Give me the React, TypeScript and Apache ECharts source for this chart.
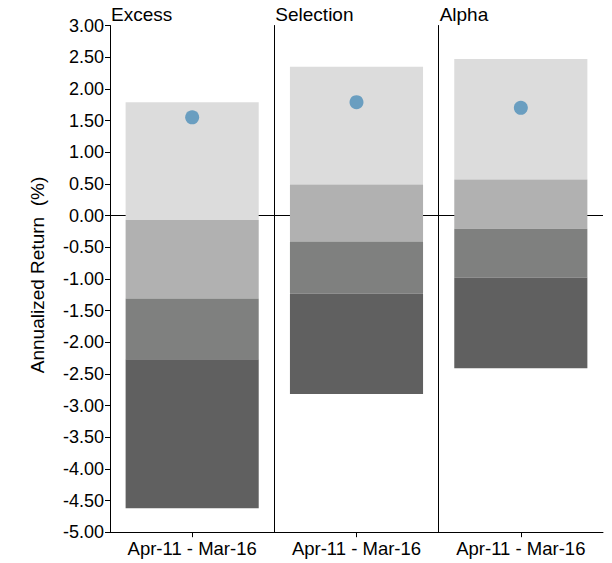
import React, { useEffect, useRef } from "react";
import * as echarts from "echarts";

const panels = ["Excess", "Selection", "Alpha"];
const periodLabel = "Apr-11 - Mar-16";
// Quartile boundaries, top to bottom, for each panel
const band5 = [1.79, 2.35, 2.47]; // top of light band
const band4 = [-0.07, 0.49, 0.57]; // light / medium boundary
const band3 = [-1.31, -0.41, -0.21]; // medium / dark-medium boundary
const band2 = [-2.27, -1.23, -0.98]; // dark-medium / dark boundary
const band1 = [-4.62, -2.82, -2.41]; // bottom of dark band
const portfolio = [1.55, 1.79, 1.70];
const segmentColors = ["#dcdcdc", "#b1b1b1", "#7f807f", "#606060"];

const Y_MIN = -5;
const Y_MAX = 3;
const Y_INT = 0.5;

export default function App() {
  const ref = useRef<HTMLDivElement>(null);
  useEffect(() => {
    document.body.style.margin = "0";
    if (!ref.current) return;
    const chart = echarts.init(ref.current, null, { renderer: "svg" });
    const font = "Liberation Sans, Arial, sans-serif";
    const left0 = 110;
    const panelW = 164.33;
    const top = 25.5;
    const height = 506.7;

    const grids: any[] = [];
    const xAxes: any[] = [];
    const yAxes: any[] = [];
    const series: any[] = [];
    const graphics: any[] = [];

    panels.forEach((name, i) => {
      grids.push({ left: left0 + i * panelW, top, width: panelW, height });
      xAxes.push({
        type: "category",
        gridIndex: i,
        data: [periodLabel],
        axisLine: { show: true, onZero: false, lineStyle: { color: "#000", width: 1 } },
        axisTick: { show: true, alignWithLabel: true, length: 5, lineStyle: { color: "#000" } },
        axisLabel: { color: "#000", fontSize: 18.5, fontFamily: font, margin: 7 },
        splitLine: { show: false },
      });
      yAxes.push({
        type: "value",
        gridIndex: i,
        min: Y_MIN,
        max: Y_MAX,
        interval: Y_INT,
        axisLine: { show: true, onZero: false, lineStyle: { color: "#000", width: 1 } },
        axisTick: { show: i === 0, length: 5, lineStyle: { color: "#000" } },
        axisLabel: {
          show: i === 0,
          color: "#000",
          fontSize: 18,
          fontFamily: font,
          margin: 6,
          formatter: (v: number) => v.toFixed(2),
        },
        splitLine: { show: false },
      });
    });
    // hidden value x axes for the zero line
    panels.forEach((_, i) => {
      xAxes.push({
        type: "value",
        gridIndex: i,
        min: 0,
        max: 1,
        show: false,
      });
    });

    panels.forEach((name, i) => {
      const bounds = [band5[i], band4[i], band3[i], band2[i], band1[i]];
      const segs = segmentColors.map((c, k) => [0, bounds[k + 1], bounds[k], k]);
      series.push({
        type: "line",
        xAxisIndex: panels.length + i,
        yAxisIndex: i,
        data: [
          [0, 0],
          [1, 0],
        ],
        symbol: "none",
        lineStyle: { color: "#000", width: 1 },
        z: 1,
        silent: true,
      });
      series.push({
        type: "custom",
        xAxisIndex: i,
        yAxisIndex: i,
        z: 2,
        data: segs,
        renderItem: (params: any, api: any) => {
          const x = api.value(0);
          const lo = api.coord([x, api.value(1)]);
          const hi = api.coord([x, api.value(2)]);
          const w = api.size([1, 0])[0] * 0.81;
          const k = api.value(3);
          return {
            type: "rect",
            shape: { x: lo[0] - w / 2, y: hi[1], width: w, height: lo[1] - hi[1] },
            style: { fill: segmentColors[k] },
          };
        },
      });
      series.push({
        type: "scatter",
        xAxisIndex: i,
        yAxisIndex: i,
        z: 3,
        data: [[0, portfolio[i]]],
        symbol: "circle",
        symbolSize: 14,
        itemStyle: { color: "#6a9ec0", opacity: 1 },
      });
      graphics.push({
        type: "text",
        left: left0 + i * panelW + 1,
        top: 5,
        style: { text: name, fontSize: 19, fontFamily: font, fill: "#000" },
      });
    });

    graphics.push({
      type: "text",
      x: 37,
      y: 275,
      rotation: Math.PI / 2,
      style: {
        text: "Annualized Return  (%)",
        fontSize: 19,
        fontFamily: font,
        fill: "#000",
        align: "center",
        verticalAlign: "middle",
      },
    });

    chart.setOption({
      animation: false,
      backgroundColor: "#fff",
      grid: grids,
      xAxis: xAxes,
      yAxis: yAxes,
      series,
      graphic: graphics,
    });
    return () => chart.dispose();
  }, []);
  return <div ref={ref} style={{ width: 612, height: 563 }} />;
}
